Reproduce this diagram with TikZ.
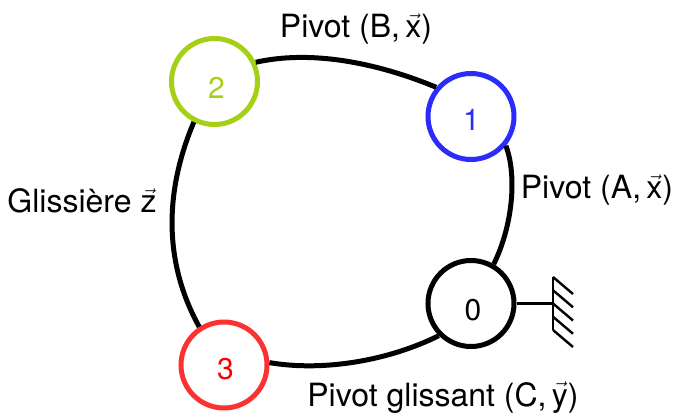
\documentclass[tikz,border=0pt]{standalone}
\usepackage{fontspec}
\setmainfont{TeX Gyre Heros}
\newcommand{\vecletter}[1]{\ensuremath{\vec{\mathrm{#1}}}}
\newcommand{\lowdigit}[2]{\raisebox{-#1pt}[0pt][0pt]{#2}}
\definecolor{cA}{RGB}{44,44,250}
\definecolor{cB}{RGB}{164,208,22}
\definecolor{cC}{RGB}{250,50,50}
\definecolor{cCt}{RGB}{250,0,0}
\tikzset{
  x=1pt,y=-1pt,
  solid link/.style={circle,draw,line width=5pt,minimum size=86pt,inner sep=0pt,fill=white,font=\fontsize{30}{33}\selectfont},
  joint/.style={line width=5pt,black},
  caption/.style={font=\fontsize{32}{35}\selectfont,inner sep=0pt,text=black},
  ground/.style={line width=2.4pt,black}
}
\begin{document}
\begin{tikzpicture}
\useasboundingbox (0,0) rectangle (673,417);
\node[solid link,draw=black] (n0) at (471,303.5) {\hspace{4pt}\lowdigit{17}{0}};
\node[solid link,draw=cA,text=cA] (n1) at (471,116.5) {\hspace{1pt}\lowdigit{14}{1}};
\node[solid link,draw=cB,text=cB] (n2) at (214.5,81.5) {\hspace{4pt}\lowdigit{17}{2}};
\node[solid link,draw=cC,text=cCt] (n3) at (224,365) {\hspace{3pt}\lowdigit{14}{3}};
\draw[joint] (n2.25) .. controls (310,50) and (375,62) .. (n1.140);
\draw[joint] (n1.-40) .. controls (517,175) and (513,225) .. (n0.60);
\draw[joint] (n0.-135) .. controls (390,360) and (325,372) .. (n3.3);
\draw[joint] (n2.-117) .. controls (163,195) and (165,265) .. (n3.123);
\coordinate (gc) at (553,303.5);
\coordinate (gt) at (553,277);
\coordinate (gb) at (553,330);
\draw[ground] (n0.east) -- (gc);
\draw[ground] (gt) -- (gb);
\foreach \k in {0,...,4}{
  \draw[ground] ([yshift=-\k*13.25pt]gt) -- ++(20,17);
}
\node[caption,anchor=base] (l1) at (356,38) {Pivot (B,\,\vecletter{x})};
\node[caption,anchor=base] (l2) at (597,199) {Pivot (A,\,\vecletter{x})};
\node[caption,anchor=base] (l3) at (82,213) {Glissière \vecletter{z}};
\node[caption,anchor=base] (l4) at (443,406) {Pivot glissant (C,\,\vecletter{y})};
\end{tikzpicture}
\end{document}
